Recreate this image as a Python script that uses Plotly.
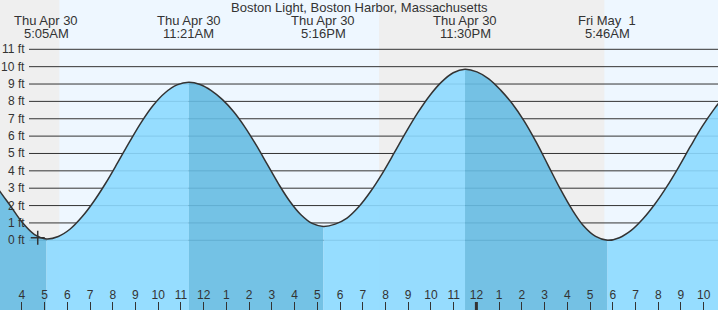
import plotly.graph_objects as go

# ---------------- data ----------------
# Tide extremes (hours since Thu Apr 30 00:00)
extreme_hours = [5.083, 11.35, 17.267, 23.5, 29.767]
extreme_heights = [0.08, 9.1, 0.8, 9.85, 0.0]
extreme_day = ["Thu Apr 30", "Thu Apr 30", "Thu Apr 30", "Thu Apr 30", "Fri May \u00a01"]
extreme_time = ["5:05AM", "11:21AM", "5:16PM", "11:30PM", "5:46AM"]

# Tide curve (hours, feet)
curve_hours = [1.95, 2.472, 2.994, 3.517, 4.039, 4.561,
               5.083, 5.605, 6.128, 6.65, 7.172, 7.694, 8.217, 8.739, 9.261, 9.784, 10.306, 10.828,
               11.35, 11.843, 12.336, 12.829, 13.322, 13.815, 14.308, 14.801, 15.294, 15.788, 16.281, 16.774,
               17.267, 17.786, 18.306, 18.825, 19.344, 19.864, 20.383, 20.903, 21.422, 21.942, 22.461, 22.981,
               23.5, 24.022, 24.544, 25.067, 25.589, 26.111, 26.633, 27.156, 27.678, 28.2, 28.722, 29.245,
               29.767, 30.289, 30.811, 31.333, 31.856, 32.378, 32.9, 33.422, 33.944, 34.467, 34.989]
curve_heights = [4.95, 3.9, 2.9, 1.95, 1.0, 0.33,
                 0.08, 0.22, 0.65, 1.35, 2.25, 3.3, 4.47, 5.67, 6.81, 7.78, 8.5, 8.95,
                 9.1, 8.97, 8.62, 8.1, 7.4, 6.52, 5.49, 4.37, 3.25, 2.25, 1.47, 0.97,
                 0.8, 0.93, 1.28, 1.93, 2.81, 3.86, 5.03, 6.23, 7.35, 8.33, 9.11, 9.65,
                 9.85, 9.7, 9.3, 8.65, 7.85, 6.85, 5.65, 4.32, 2.99, 1.79, 0.82, 0.22,
                 0.0, 0.15, 0.57, 1.24, 2.09, 3.09, 4.22, 5.42, 6.57, 7.57, 8.42]

# Night periods (sunset -> sunrise), hours
night_start = [0.0, 19.72]
night_end = [5.65, 29.63]

# Current-time marker
now_hour = [4.7]
now_height = [0.15]

# Axis ticks
y_ticks = list(range(0, 12))
x_ticks = list(range(3, 35))
x_tick_text = [str((h % 12) or 12) for h in x_ticks]
midnight = [24]

X_RANGE = [3.04, 34.63]
Y_RANGE = [-4.015, 13.84]

# ---------------- style ----------------
W, H = 718, 310
FONT = "Liberation Sans, Arial, sans-serif"
TXT = "#333333"
RISE = "rgba(140,217,255,0.9)"
FALL = "rgba(102,187,226,0.9)"
NIGHT = "#efefef"
DAY = "#eef7ff"
SMOOTH = 1.0

fig = go.Figure()

# fill segments between consecutive extremes
cuts = [0] + [curve_hours.index(h) for h in extreme_hours] + [len(curve_hours) - 1]
for a, b in zip(cuts[:-1], cuts[1:]):
    if b <= a:
        continue
    xs = curve_hours[a:b + 1]
    ys = curve_heights[a:b + 1]
    color = RISE if ys[-1] > ys[0] else FALL
    fig.add_trace(go.Scatter(x=xs, y=[Y_RANGE[0]] * len(xs), mode="lines",
                             line=dict(width=0), hoverinfo="skip", showlegend=False))
    fig.add_trace(go.Scatter(x=xs, y=ys, mode="lines", fill="tonexty", fillcolor=color,
                             line=dict(width=0, shape="spline", smoothing=SMOOTH),
                             hoverinfo="skip", showlegend=False))

# tide line
fig.add_trace(go.Scatter(x=curve_hours, y=curve_heights, mode="lines",
                         line=dict(color=TXT, width=1.5, shape="spline", smoothing=SMOOTH),
                         hoverinfo="skip", showlegend=False))

# now marker
fig.add_trace(go.Scatter(x=now_hour, y=now_height, mode="markers",
                         marker=dict(symbol="cross-thin", size=10,
                                     line=dict(color=TXT, width=1.5)),
                         hoverinfo="skip", showlegend=False))

shapes = []
for s, e in zip(night_start, night_end):
    shapes.append(dict(type="rect", xref="x", yref="paper", x0=s, x1=e, y0=0, y1=1,
                       fillcolor=NIGHT, line=dict(width=0), layer="below"))
for v in y_ticks:
    shapes.append(dict(type="line", xref="paper", yref="y", x0=29 / W, x1=1, y0=v, y1=v,
                       line=dict(color=TXT, width=1), layer="below"))
for m in midnight:
    shapes.append(dict(type="line", xref="x", yref="paper", x0=m, x1=m, y0=0, y1=8 / H,
                       line=dict(color=TXT, width=3), layer="above"))

annotations = []
for v in y_ticks:
    annotations.append(dict(xref="paper", yref="y", x=26 / W, y=v, xanchor="right",
                            yanchor="middle", text=f"{v} ft", showarrow=False, borderpad=0,
                            font=dict(family=FONT, size=12, color=TXT)))
for h, d, t in zip(extreme_hours, extreme_day, extreme_time):
    annotations.append(dict(xref="x", yref="paper", x=h, y=1 - 20.5 / H, xanchor="center",
                            yanchor="middle", text=d, showarrow=False, borderpad=0,
                            font=dict(family=FONT, size=13, color=TXT)))
    annotations.append(dict(xref="x", yref="paper", x=h, y=1 - 33 / H, xanchor="center",
                            yanchor="middle", text=t, showarrow=False, borderpad=0,
                            font=dict(family=FONT, size=13, color=TXT)))
annotations.append(dict(xref="paper", yref="paper", x=0.5, y=1 - 7.5 / H, xanchor="center",
                        yanchor="middle", text="Boston Light, Boston Harbor, Massachusetts",
                        showarrow=False, borderpad=0,
                        font=dict(family=FONT, size=13, color=TXT)))

fig.update_layout(
    width=W, height=H,
    margin=dict(l=0, r=0, t=0, b=0),
    paper_bgcolor="white", plot_bgcolor=DAY,
    shapes=shapes, annotations=annotations,
    showlegend=False,
    xaxis=dict(range=X_RANGE, tickvals=x_ticks, ticktext=x_tick_text,
               ticks="inside", ticklen=8, tickcolor=TXT, tickwidth=1,
               ticklabelposition="inside", showgrid=False, zeroline=False,
               showline=False, tickfont=dict(family=FONT, size=12, color=TXT),
               fixedrange=True),
    yaxis=dict(range=Y_RANGE, showgrid=False, zeroline=False, showticklabels=False,
               showline=False, ticks="", fixedrange=True),
)

fig.write_html("out.html")
